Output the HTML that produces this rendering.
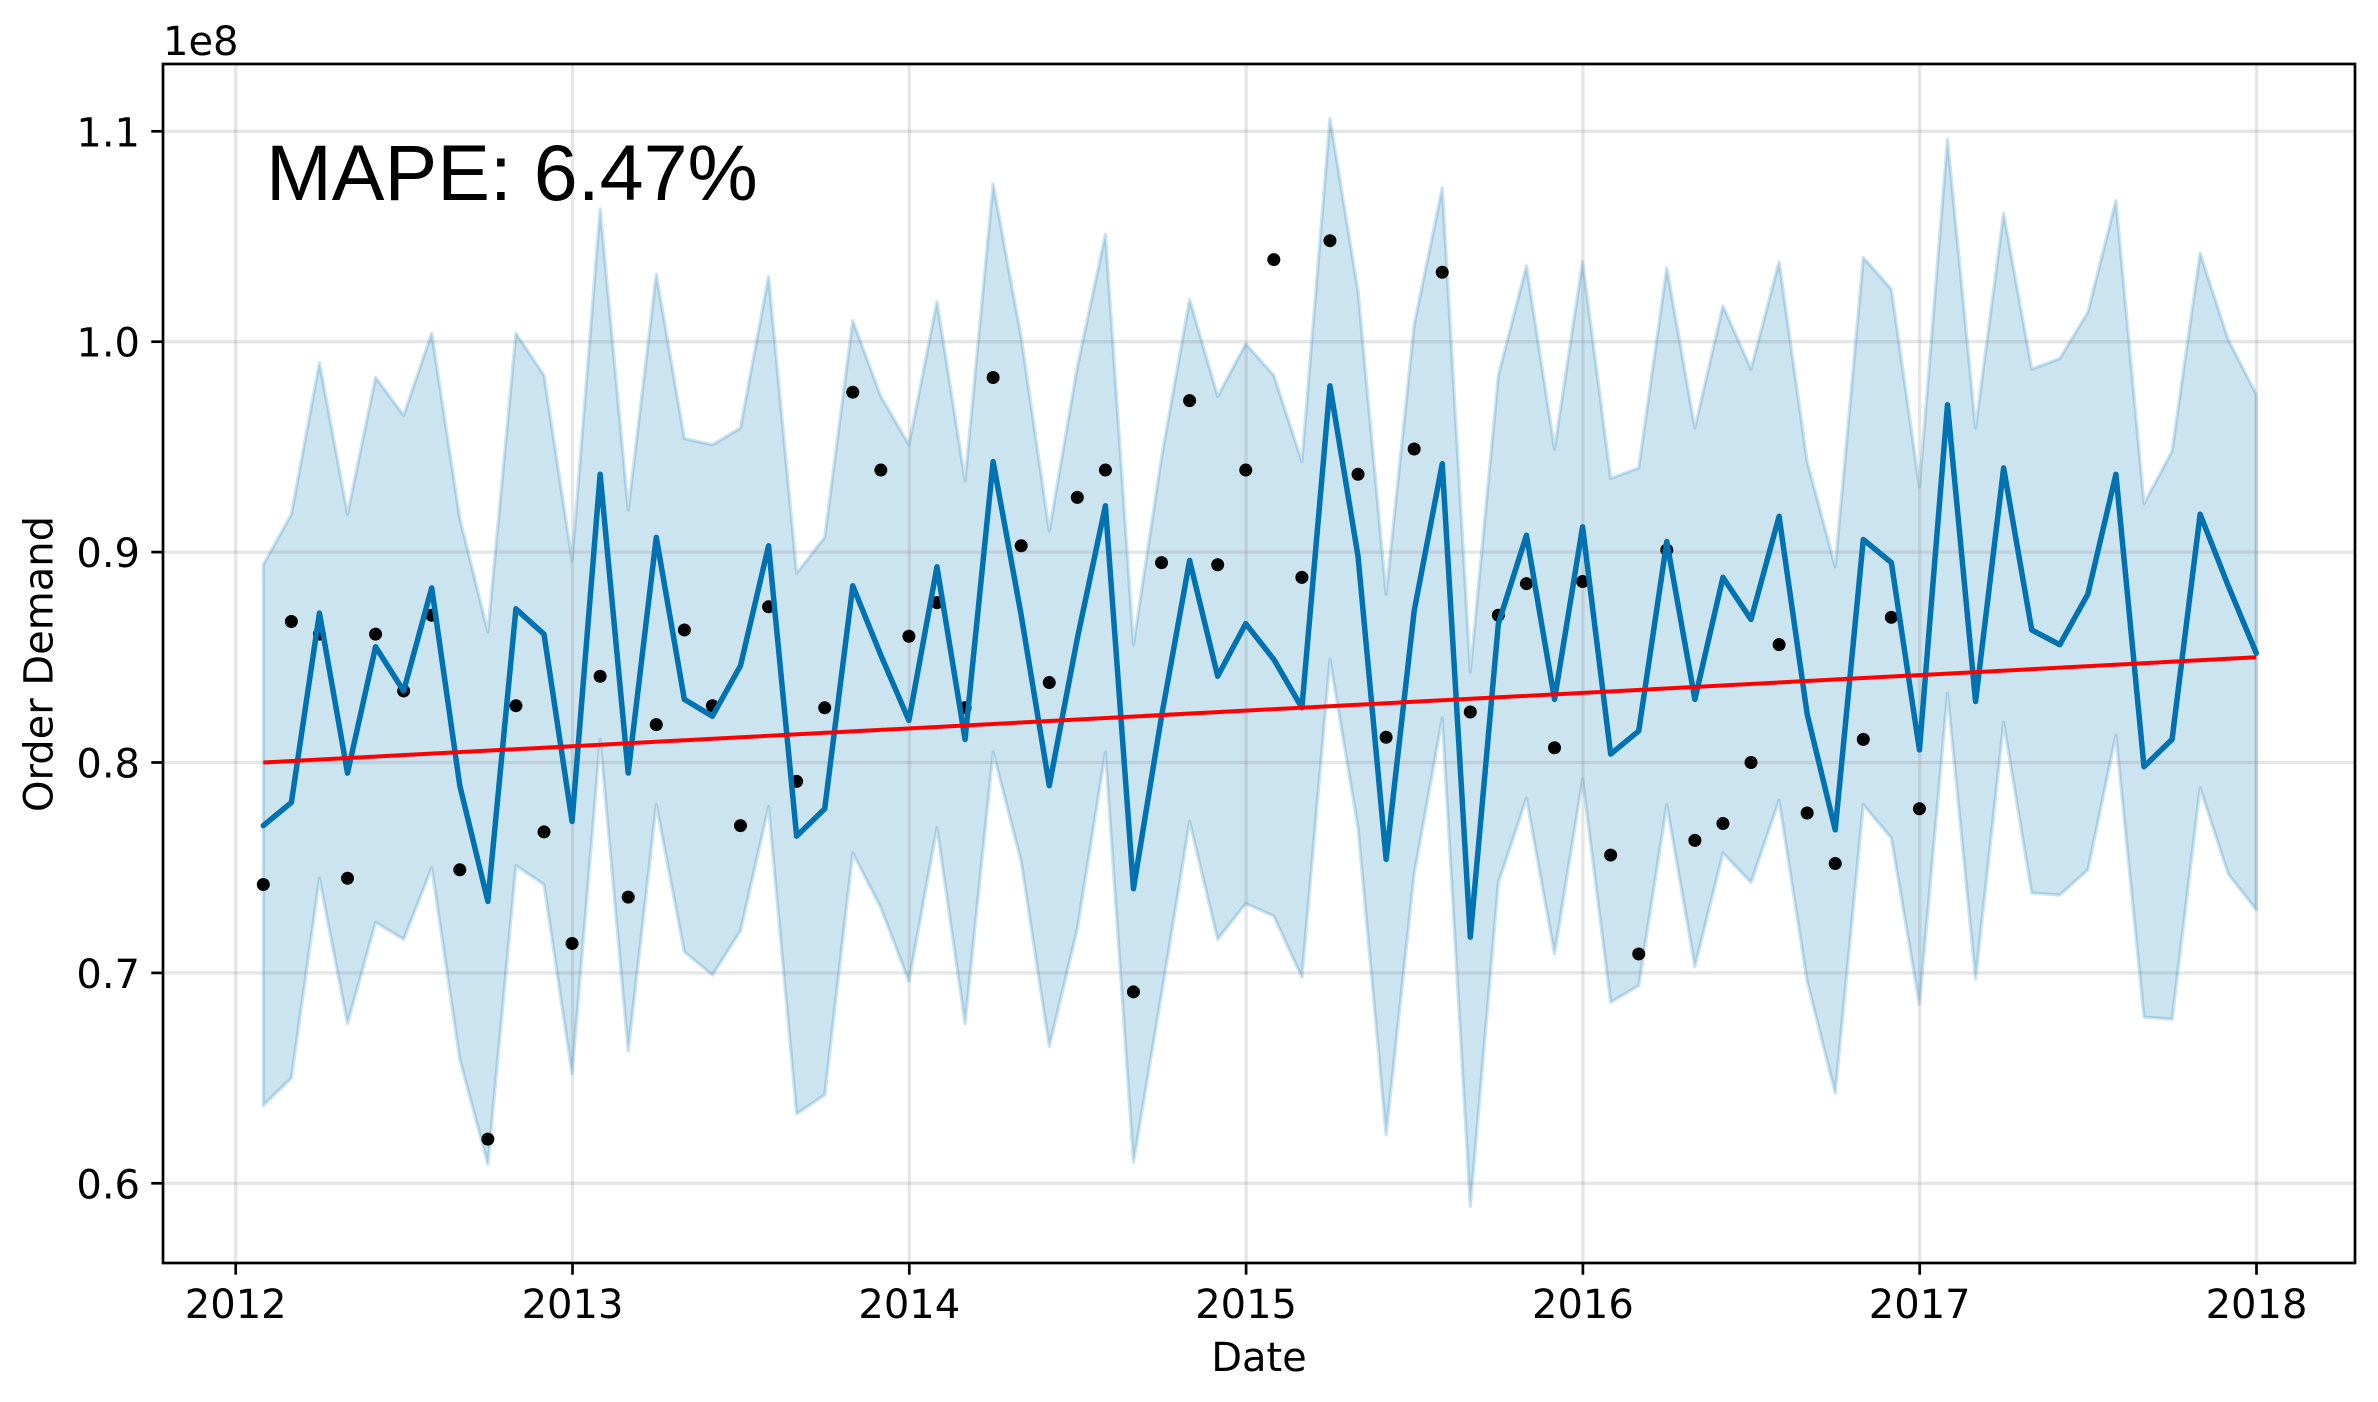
<!DOCTYPE html>
<html><head><meta charset="utf-8"><style>html,body{margin:0;padding:0;background:#fff}svg{display:block}</style></head>
<body>
<svg width="2378" height="1402" viewBox="0 0 2378 1402" xmlns="http://www.w3.org/2000/svg">
<rect x="0" y="0" width="2378" height="1402" fill="#fff"/>
<g transform="matrix(28.07 0 0 -2104 263.3 2445.7)">
<polygon fill="#0072B2" fill-opacity="0.2" stroke="#0072B2" stroke-opacity="0.2" stroke-width="3.3" vector-effect="non-scaling-stroke" stroke-linejoin="round" points="0,0.894 1,0.918 2,0.990 3,0.918 4,0.983 5,0.965 6,1.004 7,0.916 8,0.862 9,1.004 10,0.984 11,0.896 12,1.063 13,0.920 14,1.032 15,0.954 16,0.951 17,0.959 18,1.031 19,0.890 20,0.907 21,1.010 22,0.974 23,0.951 24,1.019 25,0.934 26,1.075 27,1.002 28,0.910 29,0.988 30,1.051 31,0.856 32,0.945 33,1.020 34,0.974 35,0.999 36,0.984 37,0.943 38,1.106 39,1.024 40,0.880 41,1.008 42,1.073 43,0.843 44,0.984 45,1.036 46,0.949 47,1.038 48,0.935 49,0.940 50,1.035 51,0.959 52,1.017 53,0.987 54,1.038 55,0.943 56,0.893 57,1.040 58,1.025 59,0.931 60,1.096 61,0.959 62,1.061 63,0.987 64,0.992 65,1.014 66,1.067 67,0.923 68,0.948 69,1.042 70,1.001 71,0.975 71,0.730 70,0.747 69,0.788 68,0.678 67,0.679 66,0.813 65,0.749 64,0.737 63,0.738 62,0.819 61,0.697 60,0.833 59,0.685 58,0.764 57,0.780 56,0.643 55,0.696 54,0.782 53,0.743 52,0.757 51,0.703 50,0.780 49,0.694 48,0.686 47,0.792 46,0.709 45,0.783 44,0.743 43,0.589 42,0.821 41,0.747 40,0.623 39,0.769 38,0.849 37,0.698 36,0.727 35,0.733 34,0.716 33,0.772 32,0.690 31,0.610 30,0.805 29,0.721 28,0.665 27,0.753 26,0.805 25,0.676 24,0.769 23,0.696 22,0.731 21,0.757 20,0.642 19,0.633 18,0.779 17,0.720 16,0.699 15,0.710 14,0.780 13,0.663 12,0.811 11,0.652 10,0.742 9,0.751 8,0.609 7,0.659 6,0.750 5,0.716 4,0.724 3,0.676 2,0.745 1,0.650 0,0.637"/>
</g>
<g stroke="#808080" stroke-opacity="0.2" stroke-width="3.3">
<line x1="235.7" y1="64" x2="235.7" y2="1263"/>
<line x1="572.5" y1="64" x2="572.5" y2="1263"/>
<line x1="909.3" y1="64" x2="909.3" y2="1263"/>
<line x1="1246.1" y1="64" x2="1246.1" y2="1263"/>
<line x1="1582.9" y1="64" x2="1582.9" y2="1263"/>
<line x1="1919.7" y1="64" x2="1919.7" y2="1263"/>
<line x1="2256.5" y1="64" x2="2256.5" y2="1263"/>
<line x1="163" y1="131.3" x2="2355" y2="131.3"/>
<line x1="163" y1="341.7" x2="2355" y2="341.7"/>
<line x1="163" y1="552.1" x2="2355" y2="552.1"/>
<line x1="163" y1="762.5" x2="2355" y2="762.5"/>
<line x1="163" y1="972.9" x2="2355" y2="972.9"/>
<line x1="163" y1="1183.3" x2="2355" y2="1183.3"/>
</g>
<svg x="263.3" y="131.3" width="2807" height="2104" overflow="visible">
<g fill="#000">
<circle cx="0%" cy="35.8%" r="6.5"/><circle cx="1%" cy="23.3%" r="6.5"/><circle cx="2%" cy="23.9%" r="6.5"/><circle cx="3%" cy="35.5%" r="6.5"/><circle cx="4%" cy="23.9%" r="6.5"/><circle cx="5%" cy="26.6%" r="6.5"/><circle cx="6%" cy="23.0%" r="6.5"/><circle cx="7%" cy="35.1%" r="6.5"/><circle cx="8%" cy="47.9%" r="6.5"/><circle cx="9%" cy="27.3%" r="6.5"/>
<circle cx="10%" cy="33.3%" r="6.5"/><circle cx="11%" cy="38.6%" r="6.5"/><circle cx="12%" cy="25.9%" r="6.5"/><circle cx="13%" cy="36.4%" r="6.5"/><circle cx="14%" cy="28.2%" r="6.5"/><circle cx="15%" cy="23.7%" r="6.5"/><circle cx="16%" cy="27.3%" r="6.5"/><circle cx="17%" cy="33.0%" r="6.5"/><circle cx="18%" cy="22.6%" r="6.5"/><circle cx="19%" cy="30.9%" r="6.5"/>
<circle cx="20%" cy="27.4%" r="6.5"/><circle cx="21%" cy="12.4%" r="6.5"/><circle cx="22%" cy="16.1%" r="6.5"/><circle cx="23%" cy="24.0%" r="6.5"/><circle cx="24%" cy="22.4%" r="6.5"/><circle cx="25%" cy="27.4%" r="6.5"/><circle cx="26%" cy="11.7%" r="6.5"/><circle cx="27%" cy="19.7%" r="6.5"/><circle cx="28%" cy="26.2%" r="6.5"/><circle cx="29%" cy="17.4%" r="6.5"/>
<circle cx="30%" cy="16.1%" r="6.5"/><circle cx="31%" cy="40.9%" r="6.5"/><circle cx="32%" cy="20.5%" r="6.5"/><circle cx="33%" cy="12.8%" r="6.5"/><circle cx="34%" cy="20.6%" r="6.5"/><circle cx="35%" cy="16.1%" r="6.5"/><circle cx="36%" cy="6.1%" r="6.5"/><circle cx="37%" cy="21.2%" r="6.5"/><circle cx="38%" cy="5.2%" r="6.5"/><circle cx="39%" cy="16.3%" r="6.5"/>
<circle cx="40%" cy="28.8%" r="6.5"/><circle cx="41%" cy="15.1%" r="6.5"/><circle cx="42%" cy="6.7%" r="6.5"/><circle cx="43%" cy="27.6%" r="6.5"/><circle cx="44%" cy="23.0%" r="6.5"/><circle cx="45%" cy="21.5%" r="6.5"/><circle cx="46%" cy="29.3%" r="6.5"/><circle cx="47%" cy="21.4%" r="6.5"/><circle cx="48%" cy="34.4%" r="6.5"/><circle cx="49%" cy="39.1%" r="6.5"/>
<circle cx="50%" cy="19.9%" r="6.5"/><circle cx="51%" cy="33.7%" r="6.5"/><circle cx="52%" cy="32.9%" r="6.5"/><circle cx="53%" cy="30.0%" r="6.5"/><circle cx="54%" cy="24.4%" r="6.5"/><circle cx="55%" cy="32.4%" r="6.5"/><circle cx="56%" cy="34.8%" r="6.5"/><circle cx="57%" cy="28.9%" r="6.5"/><circle cx="58%" cy="23.1%" r="6.5"/><circle cx="59%" cy="32.2%" r="6.5"/>
</g>
</svg>
<g transform="matrix(28.07 0 0 -2104 263.3 2445.7)" fill="none">
<polyline stroke="#0072B2" stroke-width="5.5" vector-effect="non-scaling-stroke" stroke-linejoin="round" stroke-linecap="round" points="0,0.770 1,0.781 2,0.871 3,0.795 4,0.855 5,0.834 6,0.883 7,0.789 8,0.734 9,0.873 10,0.861 11,0.772 12,0.937 13,0.795 14,0.907 15,0.830 16,0.822 17,0.846 18,0.903 19,0.765 20,0.778 21,0.884 22,0.851 23,0.820 24,0.893 25,0.811 26,0.943 27,0.870 28,0.789 29,0.859 30,0.922 31,0.740 32,0.822 33,0.896 34,0.841 35,0.866 36,0.849 37,0.826 38,0.979 39,0.898 40,0.754 41,0.872 42,0.942 43,0.717 44,0.866 45,0.908 46,0.830 47,0.912 48,0.804 49,0.815 50,0.905 51,0.830 52,0.888 53,0.868 54,0.917 55,0.823 56,0.768 57,0.906 58,0.895 59,0.806 60,0.970 61,0.829 62,0.940 63,0.863 64,0.856 65,0.880 66,0.937 67,0.798 68,0.811 69,0.918 70,0.884 71,0.852"/>
<polyline stroke="#ff0000" stroke-width="4" vector-effect="non-scaling-stroke" points="0,0.800 71,0.850"/>
</g>
<rect x="163" y="64" width="2192" height="1199" fill="none" stroke="#000" stroke-width="2.7"/>
<g stroke="#000" stroke-width="2.7">
<line x1="235.7" y1="1263" x2="235.7" y2="1274.7"/>
<line x1="572.5" y1="1263" x2="572.5" y2="1274.7"/>
<line x1="909.3" y1="1263" x2="909.3" y2="1274.7"/>
<line x1="1246.1" y1="1263" x2="1246.1" y2="1274.7"/>
<line x1="1582.9" y1="1263" x2="1582.9" y2="1274.7"/>
<line x1="1919.7" y1="1263" x2="1919.7" y2="1274.7"/>
<line x1="2256.5" y1="1263" x2="2256.5" y2="1274.7"/>
<line x1="151.3" y1="131.3" x2="163" y2="131.3"/>
<line x1="151.3" y1="341.7" x2="163" y2="341.7"/>
<line x1="151.3" y1="552.1" x2="163" y2="552.1"/>
<line x1="151.3" y1="762.5" x2="163" y2="762.5"/>
<line x1="151.3" y1="972.9" x2="163" y2="972.9"/>
<line x1="151.3" y1="1183.3" x2="163" y2="1183.3"/>
</g>
<g font-family="'DejaVu Sans', 'Liberation Sans', sans-serif" font-size="40" fill="#000">
<g text-anchor="middle">
<text x="235.7" y="1318">2012</text>
<text x="572.5" y="1318">2013</text>
<text x="909.3" y="1318">2014</text>
<text x="1246.1" y="1318">2015</text>
<text x="1582.9" y="1318">2016</text>
<text x="1919.7" y="1318">2017</text>
<text x="2256.5" y="1318">2018</text>
<text x="1259" y="1371">Date</text>
<text transform="translate(52.5,664) rotate(-90)">Order Demand</text>
</g>
<g text-anchor="end">
<text x="140" y="146.3">1.1</text>
<text x="140" y="356.7">1.0</text>
<text x="140" y="567.1">0.9</text>
<text x="140" y="777.5">0.8</text>
<text x="140" y="987.9">0.7</text>
<text x="140" y="1198.3">0.6</text>
</g>
<text x="163" y="55">1e8</text>
</g>
<text x="266" y="200" font-family="'Liberation Sans', Arial, sans-serif" font-size="79" fill="#000">MAPE: 6.47%</text>
</svg>
</body></html>
